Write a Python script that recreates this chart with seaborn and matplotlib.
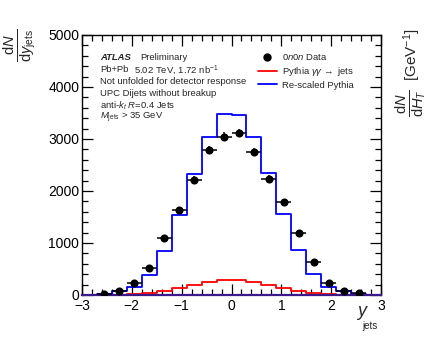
import numpy as np
import pandas as pd
import matplotlib
matplotlib.use("Agg")
import matplotlib.pyplot as plt
import seaborn as sns
from matplotlib.lines import Line2D
from matplotlib.ticker import MultipleLocator

# Binning in jet rapidity
y_edges = [-3.0, -2.7, -2.4, -2.1, -1.8, -1.5, -1.2, -0.9, -0.6, -0.3, 0.0,
           0.3, 0.6, 0.9, 1.2, 1.5, 1.8, 2.1, 2.4, 2.7, 3.0]

# Re-scaled Pythia prediction per bin
rescaled_pythia = [2, 12, 77, 145, 380, 840, 1530, 2320, 3030, 3490,
                   3470, 3040, 2350, 1560, 865, 400, 145, 77, 20, 2]

# Pythia gamma-gamma -> jets per bin
pythia_gg = [0, 1, 6, 12, 32, 70, 127, 192, 252, 292,
             290, 253, 196, 130, 72, 34, 12, 6, 2, 0]

# 0n0n data
data_y = [-2.55, -2.25, -1.95, -1.65, -1.35, -1.05, -0.75, -0.45, -0.15,
          0.15, 0.45, 0.75, 1.05, 1.35, 1.65, 1.95, 2.25, 2.55]
data_counts = [20, 83, 230, 515, 1090, 1635, 2220, 2785, 3040,
               3115, 2755, 2235, 1780, 1190, 630, 240, 83, 30]
data_err = [8, 15, 25, 35, 50, 60, 70, 80, 85,
            85, 80, 70, 60, 50, 35, 25, 15, 8]

sns.set_style("ticks")
plt.rcParams["font.family"] = ["Liberation Sans", "DejaVu Sans"]
plt.rcParams["mathtext.fontset"] = "custom"
plt.rcParams["mathtext.rm"] = "Liberation Sans"
plt.rcParams["mathtext.it"] = "Liberation Sans:italic"
plt.rcParams["mathtext.bf"] = "Liberation Sans:bold"
plt.rcParams["axes.unicode_minus"] = True

W, H = 433, 338
fig = plt.figure(figsize=(W / 100, H / 100), dpi=100)
ax = fig.add_axes([82 / W, 43 / H, 299 / W, 260 / H])

edges = np.array(y_edges)
centers = 0.5 * (edges[:-1] + edges[1:])
hist_df = pd.DataFrame({"y": centers, "rescaled": rescaled_pythia, "gg": pythia_gg})

sns.histplot(data=hist_df, x="y", weights="rescaled", bins=y_edges, element="step",
             fill=False, color="#0000ff", linewidth=1.3, ax=ax)
sns.histplot(data=hist_df, x="y", weights="gg", bins=y_edges, element="step",
             fill=False, color="#ff0000", linewidth=1.3, ax=ax)

half_width = 0.5 * np.diff(edges)[: len(data_y)]
ax.errorbar(data_y, data_counts, xerr=half_width, yerr=data_err, fmt="none",
            ecolor="black", elinewidth=1.1, capsize=0, zorder=4)
data_df = pd.DataFrame({"y": data_y, "n": data_counts})
sns.scatterplot(data=data_df, x="y", y="n", color="black", s=34, linewidth=0,
                zorder=5, ax=ax)

ax.set_xlim(-3, 3)
ax.set_ylim(0, 5000)
ax.xaxis.set_major_locator(MultipleLocator(1))
ax.xaxis.set_minor_locator(MultipleLocator(0.2))
ax.yaxis.set_major_locator(MultipleLocator(1000))
ax.yaxis.set_minor_locator(MultipleLocator(200))
ax.tick_params(which="both", direction="in", top=True, right=True,
               labelsize=10, width=0.9, colors="black")
ax.tick_params(which="major", length=8, pad=2)
ax.tick_params(axis="x", which="major", pad=3)
ax.tick_params(which="minor", length=4)
for s in ax.spines.values():
    s.set_linewidth(1.0)
    s.set_color("black")
ax.spines["bottom"].set_color("#3c1a8c")
ax.spines["bottom"].set_linewidth(1.6)
ax.set_xlabel("")
ax.set_ylabel("")

# axis titles
fig.text(20 / W, 1 - 45 / H, r"$\frac{\mathrm{d}N}{\mathrm{d}y_{\mathrm{jets}}}$",
         rotation=90, fontsize=15, ha="center", va="center")
fig.text(362 / W, 1 - 312 / H, "y", fontsize=13, fontstyle="italic",
         ha="center", va="center")
fig.text(370 / W, 1 - 326 / H, "jets", fontsize=7, ha="center", va="center")
fig.text(411 / W, 1 - 103 / H, r"$\frac{\mathrm{d}N}{\mathrm{d}H_{T}}$",
         rotation=90, fontsize=15, ha="center", va="center")
fig.text(412 / W, 1 - 55 / H, r"[GeV$^{-1}$]",
         rotation=90, fontsize=11, ha="center", va="center")

# annotation block
fs = 6.8
x0 = 100 / W
rows = [58, 70, 82, 94, 106, 118]
fig.text(x0, 1 - rows[0] / H, "ATLAS", fontsize=fs, fontweight="bold",
         fontstyle="italic", va="center")
fig.text(140 / W, 1 - rows[0] / H, "Preliminary", fontsize=fs, va="center")
fig.text(x0, 1 - rows[1] / H, "Pb+Pb", fontsize=fs, va="center")
fig.text(134 / W, 1 - rows[1] / H, r"5.02 TeV, 1.72 nb$^{-1}$", fontsize=fs,
         va="center")
fig.text(x0, 1 - rows[2] / H, "Not unfolded for detector response",
         fontsize=fs, va="center")
fig.text(x0, 1 - rows[3] / H, "UPC Dijets without breakup", fontsize=fs,
         va="center")
fig.text(x0, 1 - rows[4] / H, r"anti-$k_{t}$ $R$=0.4 Jets", fontsize=fs,
         va="center")
fig.text(x0, 1 - rows[5] / H, r"$M_{\mathrm{jets}}$ > 35 GeV", fontsize=fs,
         va="center")

handles = [
    Line2D([], [], marker="o", color="black", linestyle="none", markersize=5),
    Line2D([], [], color="#ff0000", linewidth=1.3),
    Line2D([], [], color="#0000ff", linewidth=1.3),
]
labels = [r"$0n0n$ Data", r"Pythia $\gamma\gamma\,\rightarrow$ jets",
          "Re-scaled Pythia"]
fig.legend(handles, labels, loc="upper left",
           bbox_to_anchor=(258 / W, 1 - 52 / H), frameon=False, fontsize=fs,
           handlelength=2.0, handletextpad=0.5, labelspacing=0.3,
           borderpad=0, borderaxespad=0)

fig.savefig("out.png", dpi=100)
